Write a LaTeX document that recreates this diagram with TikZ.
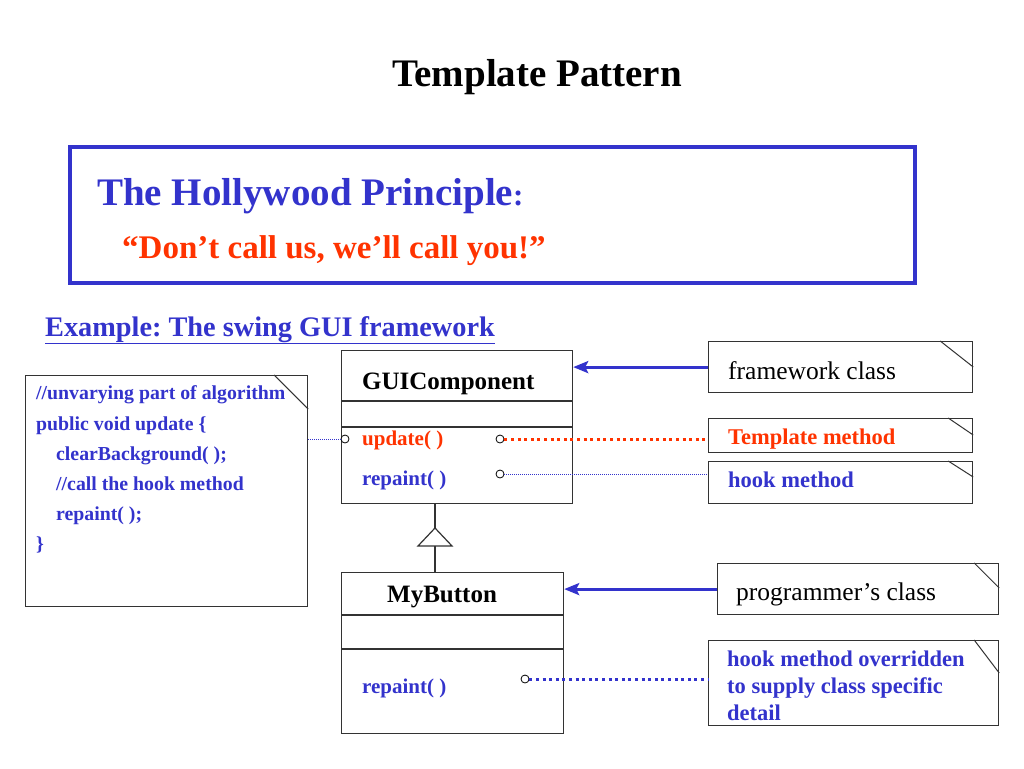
\documentclass[tikz,border=0pt]{standalone}
\usepackage{fontspec}
\setmainfont{Liberation Serif}
\usetikzlibrary{arrows.meta}
\definecolor{pptblue}{RGB}{51,51,204}
\definecolor{pptred}{RGB}{255,51,0}
\frenchspacing

\begin{document}
\begin{tikzpicture}[x=1pt, y=-1pt,
        box/.style={draw=black!80, line width=1.2pt, inner sep=0pt, anchor=north west},
        port/.style={circle, draw=black, line width=0.8pt, fill=white, inner sep=0pt, minimum size=8pt},
        txt/.style={anchor=base west, inner sep=0pt},
        clsname/.style={txt, font=\fontsize{25}{29}\selectfont\bfseries},
        meth/.style={txt, font=\fontsize{21}{25}\selectfont\bfseries},
        note/.style={meth, font=\fontsize{22.5}{26}\selectfont\bfseries},
        code/.style={txt, text=pptblue, font=\fontsize{19.8}{30}\selectfont\bfseries},
        arr/.style={draw=pptblue, line width=3pt, -{Stealth[length=15pt, width=12pt, inset=3pt]}},
        dotfat/.style={line width=3pt, dash pattern=on 3pt off 3.6pt},
        dotthin/.style={draw=pptblue, line width=0.7pt, dash pattern=on 1pt off 1pt}]
        \path[use as bounding box, fill=white] (0,0) rectangle (1024,768);

        % heading
        \node[anchor=base, inner sep=0pt, font=\fontsize{39}{44}\selectfont\bfseries] (title) at (537,86) {Template Pattern};
        \node[box, draw=pptblue, line width=4pt, minimum width=845pt, minimum height=136pt] (hollybox) at (68,145) {};
        \node[txt, text=pptblue, font=\fontsize{39}{44}\selectfont\bfseries] (holly) at (97,205) {The Hollywood Principle\fontsize{31}{36}\selectfont:};
        \node[txt, text=pptred, font=\fontsize{33}{38}\selectfont\bfseries] (quote) at (122,258) {“Don’t call us, we’ll call you!”};
        \node[txt, text=pptblue, font=\fontsize{28.3}{33}\selectfont\bfseries] (example) at (45,336) {\underline{Example: The swing GUI framework}};

        % code of the template method
        \node[box, minimum width=282pt, minimum height=231pt] (codebox) at (25,375) {};
        \node[code] (code1) at (36,399) {//unvarying part of algorithm};
        \node[code] (code2) at (36,430) {public void update \{};
        \node[code] (code3) at (56,460) {clearBackground( );};
        \node[code] (code4) at (56,490) {//call the hook method};
        \node[code] (code5) at (56,520) {repaint( );};
        \node[code] (code6) at (36,550) {\}};

        % framework class
        \node[box, minimum width=231pt, minimum height=153pt] (gui) at (341,350) {};
        \draw[draw=black!80, line width=1.2pt] ([yshift=-51pt]gui.north west) -- ([yshift=-51pt]gui.north east);
        \draw[draw=black!80, line width=1.2pt] ([yshift=-77pt]gui.north west) -- ([yshift=-77pt]gui.north east);
        \node[clsname] (guiname) at (362,389) {GUIComponent};
        \node[meth, text=pptred] (guiupd) at (362,445) {update( )};
        \node[meth, text=pptblue] (guirep) at (362,485) {repaint( )};
        \node[port] (updL) at (345,439) {};
        \node[port] (updR) at (500,439) {};
        \node[port] (repR) at (500,474) {};

        % programmer's class
        \node[box, minimum width=222pt, minimum height=161pt] (btn) at (341,572) {};
        \draw[draw=black!80, line width=1.2pt] ([yshift=-43pt]btn.north west) -- ([yshift=-43pt]btn.north east);
        \draw[draw=black!80, line width=1.2pt] ([yshift=-77pt]btn.north west) -- ([yshift=-77pt]btn.north east);
        \node[clsname] (btnname) at (387,602) {MyButton};
        \node[meth, text=pptblue] (btnrep) at (362,693) {repaint( )};
        \node[port] (btnrepR) at (525,679) {};

        % generalisation
        \coordinate (genTop) at (435,528);
        \coordinate (genBase) at (435,546);
        \draw[draw=black!80, line width=1.2pt] (genTop |- gui.south) -- (genTop);
        \draw[draw=black!80, line width=1.2pt] (genTop) -- ++(17,18) -- ++(-34,0) -- cycle;
        \draw[draw=black!80, line width=1.2pt] (genBase) -- (genBase |- btn.north);

        % notes
        \node[box, minimum width=264pt, minimum height=51pt] (fwnote) at (708,341) {};
        \node[box, minimum width=264pt, minimum height=34pt] (tmnote) at (708,418) {};
        \node[box, minimum width=264pt, minimum height=42pt] (hknote) at (708,461) {};
        \node[box, minimum width=281pt, minimum height=51pt] (pgnote) at (717,563) {};
        \node[box, minimum width=290pt, minimum height=85pt] (ovnote) at (708,640) {};
        \foreach \n/\dx/\dy in {codebox/34/34, fwnote/33/26, tmnote/25/17, hknote/25/16, pgnote/25/25, ovnote/25/33}
            \draw[draw=black!80, line width=1pt] ([xshift=-\dx pt]\n.north east) -- ([yshift=-\dy pt]\n.north east);
        \node[txt, font=\fontsize{25.5}{30}\selectfont] (fwtext) at (728,379) {framework class};
        \node[note, text=pptred] (tmtext) at (728,444) {Template method};
        \node[note, text=pptblue] (hktext) at (728,487) {hook method};
        \node[txt, font=\fontsize{25.5}{30}\selectfont] (pgtext) at (736,600) {programmer’s class};
        \node[note, text=pptblue] (ovtext1) at (727,666) {hook method overridden};
        \node[note, text=pptblue] (ovtext2) at (727,693) {to supply class specific};
        \node[note, text=pptblue] (ovtext3) at (727,720) {detail};

        % connectors
        \draw[arr] (fwnote.west) -- (fwnote.west -| gui.east);
        \draw[arr] (pgnote.west) -- (pgnote.west -| btn.east);
        \draw[dotfat, draw=pptred] (updR.east) -- (updR.east -| tmnote.west);
        \draw[dotthin] (repR.east) -- (repR.east -| hknote.west);
        \draw[dotfat, draw=pptblue] (btnrepR.east) -- (btnrepR.east -| ovnote.west);
        \draw[dotthin] (codebox.east |- updL) -- (updL.west);
    \end{tikzpicture}
\end{document}
